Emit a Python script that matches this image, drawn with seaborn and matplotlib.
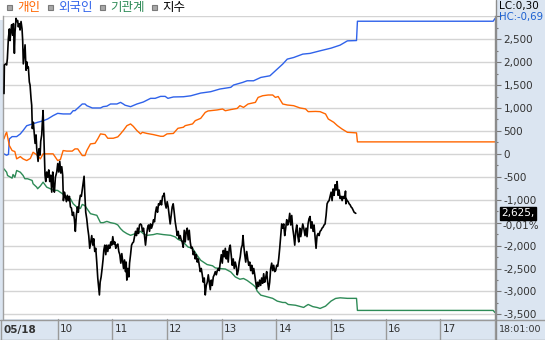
import numpy as np
import pandas as pd
import matplotlib
matplotlib.use("Agg")
import matplotlib.pyplot as plt
import matplotlib.transforms as mtransforms
from matplotlib.patches import Rectangle
from matplotlib.lines import Line2D
from matplotlib.ticker import FuncFormatter, MultipleLocator
import seaborn as sns

# ---------------- data (minutes after 09:00) ----------------
legend_labels = ["개인", "외국인", "기관계", "지수"]
hour_ticks = [10, 11, 12, 13, 14, 15, 16, 17]
date_label = "05/18"
clock_label = "18:01:00"
lc_label = "LC:0,30"
hc_label = "HC:-0,69"
chg_label = "-0,01%"

foreign_t = [1, 4, 6, 7, 10, 15, 19, 22, 26, 32, 38, 44, 49, 55, 60, 66, 74, 77, 79, 87, 90, 92, 98,
             107, 110, 114, 118, 125, 129, 132, 134, 140, 147, 154, 162, 167, 173, 178, 181, 187,
             198, 206, 217, 228, 238, 250, 253, 263, 268, 275, 283, 293, 301, 307, 312, 319, 329,
             337, 348, 360, 370, 378, 388, 389, 538, 540]
foreign_v = [0, -30, -10, 326, 376, 376, 435, 507, 613, 650, 688, 720, 760, 833, 883, 870, 870, 941,
             941, 1087, 1087, 1050, 1000, 1000, 1030, 1040, 1087, 1087, 1122, 1087, 1060, 1028,
             1087, 1130, 1210, 1210, 1253, 1253, 1210, 1240, 1245, 1265, 1325, 1355, 1413, 1450,
             1500, 1557, 1593, 1593, 1666, 1702, 1848, 1957, 2065, 2100, 2174, 2190, 2246, 2304,
             2370, 2463, 2470, 2891, 2891, 2950]

indiv_t = [1, 3, 4, 7, 10, 13, 15, 19, 22, 26, 30, 33, 37, 41, 44, 48, 55, 60, 63, 66, 70, 76, 79,
           82, 87, 90, 92, 96, 101, 104, 107, 112, 115, 121, 126, 129, 131, 132, 136, 140, 143,
           147, 151, 153, 158, 165, 173, 176, 180, 187, 192, 198, 200, 208, 211, 217, 222, 225,
           235, 241, 244, 250, 257, 260, 264, 269, 277, 280, 285, 291, 296, 299, 302, 307, 312,
           319, 326, 332, 335, 343, 348, 354, 357, 363, 367, 372, 378, 388, 389, 540]
indiv_v = [326, 435, 470, 180, 72, 50, -109, -60, -109, -146, -100, 35, -20, -109, 0, 0, 0, -146,
           -124, 72, 60, 60, 108, 108, -37, -37, 72, 217, 230, 326, 435, 420, 340, 340, 370, 435,
           485, 507, 615, 652, 600, 507, 435, 470, 445, 420, 383, 383, 435, 445, 557, 580, 615,
           652, 724, 774, 904, 935, 957, 978, 940, 965, 990, 1050, 1013, 1087, 1122, 1230, 1267,
           1283, 1283, 1230, 1250, 1087, 1065, 1050, 1000, 980, 920, 925, 920, 870, 760, 688, 615,
           543, 470, 457, 261, 261]

inst_t = [1, 4, 5, 10, 11, 13, 15, 19, 22, 24, 27, 32, 33, 37, 38, 41, 44, 48, 52, 55, 60, 66, 70,
          74, 77, 81, 85, 87, 90, 92, 96, 99, 103, 107, 110, 114, 118, 123, 126, 129, 132, 136,
          140, 145, 151, 154, 158, 165, 169, 176, 184, 189, 192, 197, 203, 208, 213, 217, 220,
          224, 230, 233, 238, 244, 250, 255, 260, 264, 268, 274, 277, 279, 283, 290, 296, 301,
          307, 310, 313, 321, 330, 332, 335, 340, 345, 348, 354, 360, 365, 370, 378, 388, 389,
          538, 540]
inst_v = [-326, -400, -472, -530, -450, -510, -363, -400, -470, -543, -543, -580, -652, -726,
          -760, -700, -617, -726, -761, -790, -798, -880, -940, -978, -1087, -1160, -1190, -1102,
          -1130, -1190, -1304, -1320, -1340, -1500, -1500, -1472, -1500, -1520, -1550, -1630,
          -1689, -1739, -1776, -1740, -1689, -1740, -1776, -1760, -1740, -1760, -1776, -1810,
          -1863, -1907, -2030, -2060, -2210, -2320, -2360, -2413, -2440, -2486, -2500, -2510,
          -2574, -2683, -2733, -2717, -2760, -2848, -2900, -2993, -3080, -3117, -3150, -3210,
          -3240, -3240, -3283, -3300, -3348, -3320, -3283, -3330, -3350, -3370, -3320, -3210,
          -3152, -3138, -3150, -3150, -3413, -3413, -3460]

index_t = [1.1, 1.5, 2.9, 4.0, 4.8, 5.9, 7.0, 7.7, 8.8, 9.5, 10.6, 11.4, 12.5, 13.2, 14.3, 15.0,
           16.1, 16.8, 17.9, 18.7, 19.8, 20.9, 21.6, 22.3, 23.1, 24.2, 25.3, 26.0, 27.1, 27.8,
           28.9, 29.7, 30.8, 31.5, 32.2, 33.3, 34.4, 35.2, 36.3, 37.0, 37.7, 38.5, 39.6, 40.7,
           41.4, 42.5, 43.2, 44.0, 44.7, 45.4, 46.1, 46.9, 48.0, 49.1, 50.2, 51.3, 52.4, 53.5,
           54.6, 55.3, 56.4, 57.5, 59.0, 60.1, 61.2, 62.3, 63.4, 64.5, 65.5, 66.3, 67.4, 68.5,
           69.6, 70.7, 71.8, 72.9, 74.0, 75.1, 76.2, 77.3, 78.4, 79.4, 80.5, 81.6, 82.7, 83.8,
           84.9, 86.0, 87.1, 88.2, 89.0, 89.7, 90.8, 91.9, 93.0, 94.1, 95.2, 96.3, 97.4, 98.5,
           99.6, 100.7, 101.8, 102.9, 104.0, 105.1, 105.8, 106.6, 107.7, 108.8, 109.9, 110.6,
           111.7, 112.8, 113.9, 115.0, 116.1, 117.2, 118.3, 119.4, 120.5, 121.6, 122.7, 123.8,
           124.9, 126.0, 127.1, 128.2, 129.3, 130.4, 131.5, 132.3, 133.4, 134.5, 135.2, 135.9,
           137.0, 138.1, 138.9, 140.0, 141.1, 142.2, 143.3, 144.4, 145.4, 146.5, 147.6, 148.7,
           149.8, 150.9, 152.0, 153.1, 154.2, 155.3, 156.4, 157.5, 158.6, 159.7, 160.8, 161.9,
           163.0, 164.1, 165.2, 166.3, 167.4, 168.5, 169.6, 170.7, 171.8, 172.9, 174.0, 175.1,
           176.2, 176.9, 178.0, 179.1, 180.2, 181.3, 182.4, 183.5, 184.6, 185.7, 186.8, 187.9,
           189.0, 190.1, 191.2, 192.3, 193.4, 194.5, 195.6, 196.7, 197.8, 198.9, 200.0, 201.1,
           202.2, 203.3, 204.4, 205.5, 206.6, 207.7, 208.8, 209.9, 211.0, 212.1, 213.2, 214.3,
           215.4, 216.5, 217.6, 218.7, 219.8, 220.9, 222.0, 223.1, 224.2, 225.3, 226.4, 227.5,
           228.6, 229.7, 230.8, 231.9, 233.0, 234.1, 235.2, 236.3, 237.4, 238.5, 239.6, 240.7,
           241.8, 242.9, 244.0, 245.1, 246.1, 247.2, 248.3, 249.4, 250.5, 251.6, 252.7, 253.8,
           254.9, 256.0, 257.1, 258.2, 259.3, 260.4, 261.5, 262.6, 263.4, 264.2, 265.3, 266.4,
           267.5, 268.6, 269.7, 270.8, 271.9, 273.0, 274.1, 275.2, 276.3, 277.4, 278.5, 279.5,
           280.6, 281.7, 282.8, 283.9, 285.0, 286.1, 287.2, 288.3, 289.4, 290.5, 291.6, 292.7,
           293.8, 294.9, 296.0, 297.1, 298.2, 299.3, 300.4, 301.5, 302.6, 303.7, 304.8, 305.9,
           307.0, 308.1, 309.2, 310.3, 311.4, 312.5, 313.6, 314.7, 315.8, 316.9, 318.0, 319.1,
           320.2, 321.3, 322.4, 323.5, 324.6, 325.7, 326.8, 327.9, 329.0, 330.1, 331.5, 332.6,
           333.7, 334.8, 335.9, 337.0, 338.1, 339.2, 340.3, 341.4, 342.5, 343.6, 344.7, 345.8,
           346.9, 348.0, 349.1, 350.2, 351.3, 352.4, 353.5, 354.6, 355.7, 356.8, 357.9, 359.0,
           360.1, 361.2, 362.3, 363.4, 364.5, 365.6, 366.7, 367.8, 368.9, 370.0, 371.1, 372.2,
           373.3, 374.4, 375.5, 375.9, 376.3, 376.6, 377.7, 378.8, 379.9, 381.0, 382.1, 383.2,
           384.3, 385.4, 387.2]
index_v = [2636.1, 2638.8, 2638.9, 2638.8, 2639.4, 2641.3, 2642.2, 2641.1, 2642.1, 2642.6, 2641.6,
           2642.7, 2639.9, 2641.9, 2643.2, 2642.9, 2643.0, 2642.4, 2642.7, 2642.1, 2642.9, 2642.2,
           2641.1, 2638.9, 2639.7, 2640.7, 2638.3, 2639.1, 2638.5, 2638.6, 2637.2, 2636.9, 2635.6,
           2635.0, 2632.8, 2633.4, 2632.3, 2631.4, 2632.2, 2630.9, 2630.3, 2629.7, 2630.9, 2630.3,
           2631.6, 2632.2, 2633.4, 2634.5, 2632.5, 2630.3, 2628.4, 2627.8, 2628.7, 2628.2, 2628.9,
           2627.8, 2628.4, 2626.8, 2628.7, 2627.5, 2626.8, 2628.2, 2628.7, 2629.5, 2628.7, 2629.7,
           2628.6, 2629.2, 2628.4, 2626.0, 2626.8, 2626.4, 2625.9, 2626.5, 2626.0, 2626.4, 2625.4,
           2625.3, 2624.6, 2624.9, 2624.2, 2623.1, 2624.6, 2625.4, 2624.9, 2625.9, 2626.5, 2626.4,
           2627.1, 2627.8, 2628.3, 2626.8, 2624.9, 2624.3, 2623.4, 2622.7, 2621.5, 2622.1, 2622.7,
           2621.8, 2622.4, 2621.2, 2621.5, 2620.2, 2618.7, 2617.7, 2617.1, 2618.3, 2618.8, 2619.6,
           2620.5, 2621.3, 2621.8, 2620.9, 2621.8, 2621.2, 2621.8, 2621.5, 2622.1, 2621.8, 2622.6,
           2621.9, 2622.1, 2621.5, 2621.8, 2621.9, 2621.2, 2620.9, 2620.1, 2621.0, 2620.2, 2619.6,
           2620.4, 2619.3, 2620.2, 2618.5, 2619.6, 2618.8, 2620.1, 2620.9, 2621.8, 2622.0, 2622.1,
           2622.6, 2623.1, 2622.7, 2623.4, 2622.9, 2623.7, 2623.8, 2623.7, 2623.1, 2623.4, 2622.7,
           2621.8, 2622.7, 2623.4, 2623.7, 2623.1, 2623.8, 2623.4, 2623.7, 2624.2, 2624.0, 2624.9,
           2625.4, 2624.9, 2625.7, 2625.6, 2626.0, 2625.6, 2626.4, 2626.5, 2626.7, 2625.7, 2625.3,
           2625.9, 2625.4, 2624.6, 2623.8, 2624.6, 2625.4, 2625.7, 2624.9, 2624.0, 2623.4, 2622.7,
           2623.1, 2622.4, 2622.7, 2622.3, 2622.1, 2621.6, 2623.2, 2622.1, 2623.1, 2623.4, 2622.3,
           2623.2, 2622.1, 2621.5, 2621.6, 2620.9, 2621.2, 2620.5, 2620.9, 2620.2, 2620.5, 2619.9,
           2619.3, 2619.6, 2619.0, 2618.3, 2618.7, 2617.1, 2618.0, 2618.3, 2619.0, 2618.3, 2617.6,
           2618.5, 2618.0, 2618.8, 2619.0, 2619.3, 2619.0, 2619.4, 2619.6, 2619.4, 2620.2, 2620.9,
           2620.1, 2621.3, 2620.7, 2621.5, 2620.5, 2621.2, 2620.2, 2621.5, 2621.8, 2620.9, 2619.9,
           2620.5, 2619.6, 2620.2, 2619.8, 2619.0, 2619.4, 2620.2, 2620.7, 2621.5, 2621.8, 2622.7,
           2621.8, 2620.9, 2620.2, 2621.2, 2620.5, 2619.9, 2620.2, 2619.4, 2619.9, 2619.1, 2619.6,
           2619.0, 2618.3, 2617.7, 2618.3, 2617.9, 2618.5, 2618.0, 2618.7, 2618.2, 2619.1, 2618.3,
           2618.7, 2619.3, 2618.3, 2617.6, 2618.3, 2619.6, 2620.1, 2619.4, 2619.9, 2619.3, 2619.4,
           2619.9, 2619.8, 2620.5, 2621.5, 2622.7, 2623.8, 2623.4, 2623.8, 2622.7, 2623.4, 2624.2,
           2623.7, 2624.0, 2624.8, 2623.7, 2624.6, 2623.4, 2622.7, 2621.8, 2623.1, 2623.7, 2622.7,
           2622.1, 2623.4, 2622.6, 2623.2, 2623.8, 2623.4, 2622.7, 2623.4, 2622.6, 2623.8, 2624.3,
           2624.5, 2623.4, 2624.0, 2623.1, 2623.7, 2622.6, 2621.5, 2622.7, 2622.9, 2622.7, 2623.1,
           2623.2, 2623.4, 2623.5, 2623.7, 2623.8, 2624.6, 2625.7, 2625.9, 2626.0, 2626.4, 2626.8,
           2626.0, 2627.1, 2626.5, 2627.5, 2627.0, 2627.8, 2626.5, 2627.0, 2626.2, 2626.4, 2626.0,
           2626.4, 2626.2, 2626.5, 2626.9, 2625.7, 2626.2, 2626.0, 2625.9, 2625.7, 2625.6, 2625.4,
           2625.3, 2625.1, 2624.9, 2624.8]

# ---------------- style ----------------
sns.set_theme(style="white")
plt.rcParams['font.family'] = ['DejaVu Sans']

W, H = 545, 340
fig = plt.figure(figsize=(W / 100, H / 100), dpi=100)
fig.patch.set_facecolor('white')

PANEL = '#dbe5f1'
LINE_GRAY = '#9a9a9a'
C_IND, C_FOR, C_INS, C_IDX = '#ff6600', '#2f62ea', '#2e8b57', '#000000'

def fx(px):
    return px / W

def fy(py):
    return 1 - py / H

# panels in figure background
fig.patches.append(Rectangle((fx(496), 0), 1 - fx(496), 1, transform=fig.transFigure,
                             facecolor=PANEL, edgecolor='none', zorder=-5))
fig.patches.append(Rectangle((0, 0), fx(496), 1 - fy(320), transform=fig.transFigure,
                             facecolor=PANEL, edgecolor='none', zorder=-5))

ax_left, ax_right, ax_top, ax_bot = 3, 495, 16, 319
ax = fig.add_axes([fx(ax_left), fy(ax_bot), fx(ax_right - ax_left), (ax_bot - ax_top) / H])
ax.set_facecolor('white')

df_for = pd.DataFrame({'t': foreign_t, 'v': foreign_v})
df_ind = pd.DataFrame({'t': indiv_t, 'v': indiv_v})
df_ins = pd.DataFrame({'t': inst_t, 'v': inst_v})
sns.lineplot(data=df_for, x='t', y='v', ax=ax, color=C_FOR, lw=1.0, estimator=None, sort=False)
sns.lineplot(data=df_ind, x='t', y='v', ax=ax, color=C_IND, lw=1.0, estimator=None, sort=False)
sns.lineplot(data=df_ins, x='t', y='v', ax=ax, color=C_INS, lw=1.0, estimator=None, sort=False)

# index on its own hidden scale
ax2 = ax.twinx()
df_idx = pd.DataFrame({'t': index_t, 'v': index_v})
sns.lineplot(data=df_idx, x='t', y='v', ax=ax2, color=C_IDX, lw=1.2, estimator=None, sort=False)
ax2.set_ylim(2614.83, 2643.42)
ax2.set_xlim(0, 540)
ax2.set_yticks([])
ax2.set_ylabel('')
ax2.set_xlabel('')
ax2.set_xticks([])
for s in ax2.spines.values():
    s.set_visible(False)

# main axis styling (after twinx, which resets tick sides)
ax.set_xlim(0, 540)
ax.set_ylim(-3600, 3005)
ax.set_xlabel('')
ax.set_ylabel('')
ax.set_xticks([])
ax.yaxis.set_major_locator(MultipleLocator(500))
ax.yaxis.set_minor_locator(MultipleLocator(250))
# 3,000 sits under the LC/HC header and -1,500 under the price box, as in the source
ax.yaxis.set_major_formatter(FuncFormatter(
    lambda v, p: '' if (v >= 2999 or abs(v + 1500) < 1) else f"{v:,.0f}"))
ax.yaxis.tick_right()
ax.tick_params(axis='y', which='major', right=True, left=False, labelright=True,
               labelleft=False, length=4, width=0.8, color='#777777', labelsize=7.5,
               labelcolor='#333333', pad=2)
ax.tick_params(axis='y', which='minor', right=True, left=False, length=2, width=0.8,
               color='#777777')
ax.grid(True, axis='y', which='major', color='#d4d4d4', lw=1.0)
ax.grid(False, axis='x')
ax.set_axisbelow(True)
for s in ['top', 'bottom']:
    ax.spines[s].set_visible(False)
ax.spines['left'].set_color('#a0a0a0')
ax.spines['left'].set_linewidth(1.0)
ax.spines['right'].set_color('#8c8c8c')
ax.spines['right'].set_linewidth(1.0)

last = index_v[-1]
ax2.annotate(f"{last:,.0f},", xy=(1, last), xycoords=('axes fraction', 'data'),
             xytext=(6, 0), textcoords='offset pixels', ha='left', va='center',
             color='white', fontsize=7.5, annotation_clip=False, zorder=10,
             bbox=dict(boxstyle='square,pad=0.12', fc='black', ec='black'))
ax2.annotate(chg_label, xy=(1, last), xycoords=('axes fraction', 'data'),
             xytext=(7, -13), textcoords='offset pixels', ha='left', va='center',
             color='#333333', fontsize=7.5, annotation_clip=False, zorder=10)

# bottom time bar
blend = mtransforms.blended_transform_factory(ax.transData, ax.transAxes)
bar_low = -(340 - ax_bot) / (ax_bot - ax_top)
for h in hour_ticks + [18]:
    m = (h - 9) * 60
    ax.plot([m, m], [bar_low, 0], transform=blend, color=LINE_GRAY, lw=1.0, clip_on=False)
    if h <= 17:
        ax.text(m + 2.5, bar_low / 2, str(h), transform=blend, ha='left', va='center',
                fontsize=7.5, color='#333333', clip_on=False)

fig.add_artist(Line2D([0, 1], [fy(320), fy(320)], transform=fig.transFigure,
                      color=LINE_GRAY, lw=1.0))
fig.add_artist(Line2D([0, 1], [fy(339.5), fy(339.5)], transform=fig.transFigure,
                      color=LINE_GRAY, lw=1.0))
fig.add_artist(Line2D([fx(0.5), fx(0.5)], [0, fy(320)], transform=fig.transFigure,
                      color=LINE_GRAY, lw=1.0))
fig.add_artist(Line2D([fx(496), fx(496)], [0, 1], transform=fig.transFigure,
                      color='#8c8c8c', lw=1.0))
fig.text(fx(4), fy(330), date_label, ha='left', va='center', fontsize=7.5,
         fontweight='bold', color='#333333')
fig.text(fx(499), fy(330), clock_label, ha='left', va='center', fontsize=6.8, color='#333333')

# right panel header
fig.text(fx(499), fy(6), lc_label, ha='left', va='center', fontsize=7.5, color='black')
fig.text(fx(499), fy(17), hc_label, ha='left', va='center', fontsize=7.3, color='#1a5fd0')

# legend
leg_colors = [C_IND, C_FOR, C_INS, C_IDX]
marker_x = [7, 48, 100, 152]
text_x = [17, 58, 110, 162]
kfam = ['Noto Sans CJK KR', 'DejaVu Sans']
for lab, col, mx, tx in zip(legend_labels, leg_colors, marker_x, text_x):
    fig.patches.append(Rectangle((fx(mx), fy(10)), 5 / W, 5 / H, transform=fig.transFigure,
                                 facecolor='#a8a8a8', edgecolor='#7a7a7a', lw=0.8, zorder=3))
    fig.text(fx(tx), fy(8), lab, ha='left', va='center', fontsize=9, color=col, family=kfam)

fig.savefig('out.png', dpi=100, facecolor='white')
